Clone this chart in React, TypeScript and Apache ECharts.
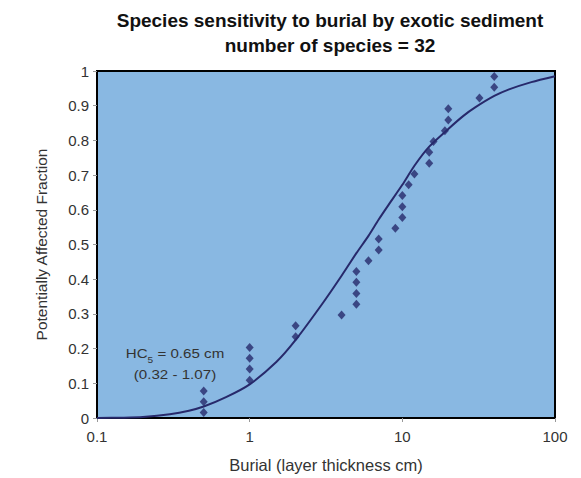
import React, { useEffect, useRef } from "react";
import * as echarts from "echarts";

// Species data: burial thickness (cm) and potentially affected fraction
const speciesBurial = [0.5, 0.5, 0.5, 1, 1, 1, 1, 2, 2, 4, 5, 5, 5, 5, 6, 7, 7, 9, 10, 10, 10, 11, 12, 15, 15, 16, 19, 20, 20, 32, 40, 40];
const speciesFraction = [0.016, 0.047, 0.078, 0.109, 0.141, 0.172, 0.203, 0.234, 0.266, 0.297, 0.328, 0.359, 0.391, 0.422, 0.453, 0.484, 0.516, 0.547, 0.578, 0.609, 0.641, 0.672, 0.703, 0.734, 0.766, 0.797, 0.828, 0.859, 0.891, 0.922, 0.953, 0.984];

// Fitted curve, points
const curveBurial = [0.1, 0.15, 0.2, 0.3, 0.4, 0.5, 0.7, 1, 1.5, 2, 3, 4, 5, 6, 7, 8, 10, 12, 15, 20, 25, 30, 40, 50, 70, 100];
const curveFraction = [0.0, 0.001, 0.003, 0.011, 0.021, 0.033, 0.06, 0.097, 0.162, 0.225, 0.33, 0.41, 0.475, 0.525, 0.572, 0.61, 0.672, 0.727, 0.782, 0.833, 0.87, 0.895, 0.928, 0.947, 0.968, 0.985];

const xTickLabels = ["0.1", "1", "10", "100"];
const titleLines = ["Species sensitivity to burial by exotic sediment", "number of species = 32"];
const hcLines = ["0.65 cm", "(0.32 - 1.07)"];

export default function App() {
  const ref = useRef<HTMLDivElement>(null);
  useEffect(() => {
    if (!ref.current) return;
    const chart = echarts.init(ref.current, undefined, { renderer: "svg" });
    const font = "'Liberation Sans', Arial, sans-serif";
    const navy = "#27296b";
    chart.setOption({
      animation: false,
      backgroundColor: "#ffffff",
      textStyle: { fontFamily: font },
      grid: {
        left: 97,
        right: 26,
        top: 71,
        bottom: 60,
        show: true,
        backgroundColor: "#89b8e2",
        borderColor: "#000000",
        borderWidth: 2,
      },
      graphic: [
        {
          type: "text",
          x: 330,
          y: 8,
          style: {
            text: titleLines.join("\n"),
            fontFamily: font,
            fontSize: 19,
            fontWeight: "bold",
            lineHeight: 25,
            fill: "#111111",
            align: "center",
          },
        },
        {
          type: "text",
          x: 175,
          y: 343,
          scaleX: 1.12,
          style: {
            text: "{n|HC}{s|5}{n| = " + hcLines[0] + "}\n{n|" + hcLines[1] + "}",
            align: "center",
            rich: {
              n: { fontFamily: font, fontSize: 13.5, fill: "#333333", lineHeight: 21 },
              s: { fontFamily: font, fontSize: 9, fill: "#333333", verticalAlign: "bottom", lineHeight: 21 },
            },
          },
        },
      ],
      xAxis: {
        type: "log",
        logBase: 10,
        min: 0.1,
        max: 100,
        name: "Burial (layer thickness cm)",
        nameLocation: "middle",
        nameGap: 38,
        nameTextStyle: { fontFamily: font, fontSize: 16.5, color: "#333333" },
        axisLine: { show: false },
        axisTick: { show: true, length: 4, lineStyle: { color: "#999999" } },
        minorTick: { show: false },
        splitLine: { show: false },
        axisLabel: {
          fontFamily: font,
          fontSize: 15,
          color: "#333333",
          margin: 11,
          formatter: (v: number) => {
            const idx = Math.round(Math.log10(v)) + 1;
            return xTickLabels[idx] ?? String(v);
          },
        },
      },
      yAxis: {
        type: "value",
        min: 0,
        max: 1,
        interval: 0.1,
        name: "Potentially Affected Fraction",
        nameLocation: "middle",
        nameGap: 48,
        nameRotate: 90,
        nameTextStyle: { fontFamily: font, fontSize: 15.5, color: "#333333" },
        axisLine: { show: false },
        axisTick: { show: true, length: 4, lineStyle: { color: "#999999" } },
        splitLine: { show: false },
        axisLabel: { fontFamily: font, fontSize: 15, color: "#333333", margin: 8 },
      },
      series: [
        {
          type: "line",
          data: curveBurial.map((x, i) => [x, curveFraction[i]]),
          smooth: 0.25,
          showSymbol: false,
          symbol: "none",
          lineStyle: { color: navy, width: 2 },
          z: 2,
        },
        {
          type: "scatter",
          data: speciesBurial.map((x, i) => [x, speciesFraction[i]]),
          symbol: "diamond",
          symbolSize: [8, 9],
          itemStyle: { color: navy },
          z: 3,
        },
      ],
    });
    return () => chart.dispose();
  }, []);
  return <div ref={ref} style={{ width: 581, height: 478, position: "absolute", left: 0, top: 0 }} />;
}
